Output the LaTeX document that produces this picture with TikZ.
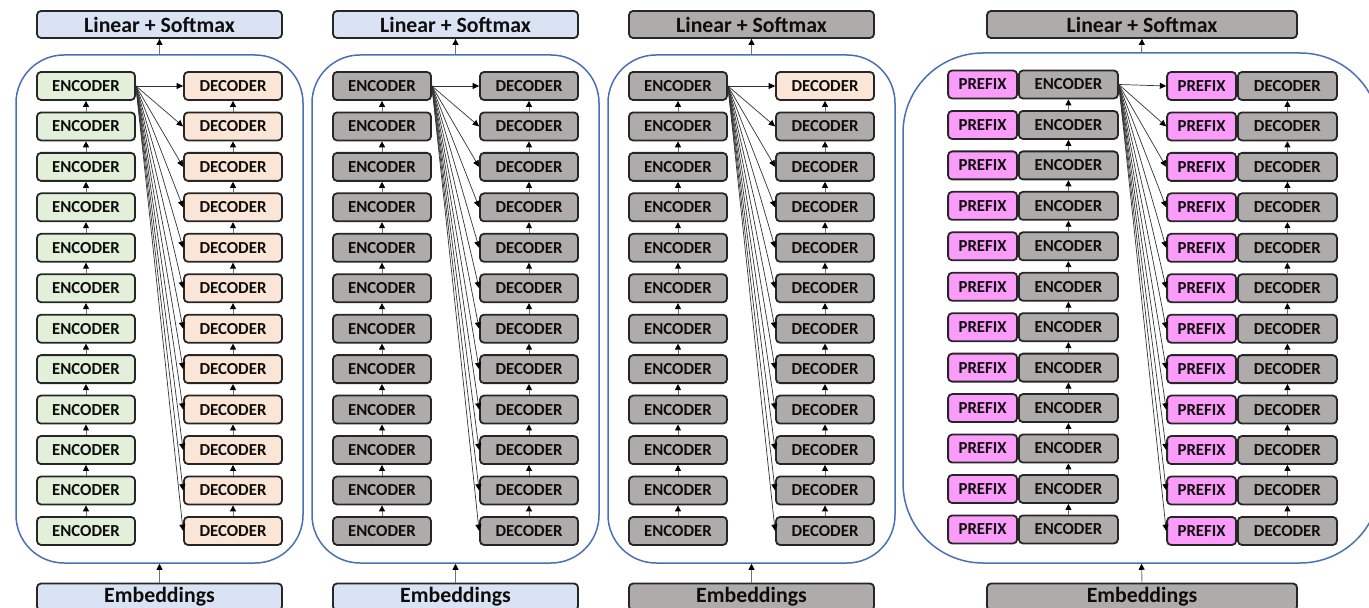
\documentclass[tikz,border=0pt]{standalone}
\usepackage{fontspec}
\setmainfont{Carlito}
\usetikzlibrary{arrows.meta}

\definecolor{lblue}{HTML}{DAE3F3}
\definecolor{egreen}{HTML}{E2F0D9}
\definecolor{dorange}{HTML}{FBE5D6}
\definecolor{gbox}{HTML}{AFABAB}
\definecolor{pfx}{HTML}{FB9CFB}
\definecolor{frame}{HTML}{4A6FB5}
\definecolor{boxline}{HTML}{262626}
\definecolor{txt}{HTML}{0D0D0D}

\begin{document}
\begin{tikzpicture}[x=0.5pt,y=-0.5pt,
  blk/.style={draw=boxline, line width=0.9pt, rounded corners=2pt,
    minimum height=14pt, inner sep=0pt, text=txt,
    font=\bfseries\fontsize{8.4}{9}\selectfont},
  layer/.style={blk, minimum width=49pt},
  pfxbox/.style={blk, minimum width=34.5pt, fill=pfx},
  head/.style={blk, minimum width=122.5pt, minimum height=13.5pt,
    font=\bfseries\fontsize{10.9}{12}\selectfont},
  stack/.style={draw=frame, line width=0.75pt, rounded corners=24pt, inner sep=0pt},
  up/.style={draw=black!55, line width=0.45pt,
    -{Triangle[length=3pt,width=3pt,color=black]}},
  fan/.style={draw=black!80, line width=0.35pt,
    -{Triangle[length=3.2pt,width=3pt,color=black]}},
]
\useasboundingbox (0,0) rectangle (1369,608);
\clip (0,0) rectangle (1369,608);

% three plain encoder--decoder stacks
\foreach \p/\dx/\ec/\dc/\tc/\lc in {1/0/egreen/dorange/dorange/lblue,
                                    2/296/gbox/gbox/gbox/lblue,
                                    3/592/gbox/gbox/dorange/gbox} {
  \node[stack, minimum width=143.5pt, minimum height=254pt] (c\p) at (159.5+\dx,309) {};
  \node[head, fill=\lc] (lin\p) at (159.5+\dx,24.5) {Linear + Softmax};
  \node[head, fill=\lc] (emb\p) at (159.5+\dx,597) {Embeddings};
  \draw[up] (c\p.north) -- (lin\p.south);
  \draw[up] (emb\p.north) -- (c\p.south);
  \foreach \i in {0,...,11} {
    \pgfmathsetmacro\yy{86+40.45*\i}
    \ifnum\i=0 \def\fc{\tc}\else\def\fc{\dc}\fi
    \node[layer, fill=\ec] (e\p-\i) at (86+\dx,\yy) {ENCODER};
    \node[layer, fill=\fc] (d\p-\i) at (233+\dx,\yy) {DECODER};
  }
  \foreach \i in {1,...,11} {
    \pgfmathtruncatemacro\j{\i-1}
    \draw[up] (e\p-\i) -- (e\p-\j);
    \draw[up] (d\p-\i) -- (d\p-\j);
  }
  \foreach \i in {0,...,11} {
    \draw[fan] (e\p-0.east) -- (d\p-\i.west);
  }
}

% stack with prefixes on every layer
\node[stack, rounded corners=40pt, minimum width=238.5pt, minimum height=255pt] (c4) at (1141.5,308) {};
\node[head, fill=gbox, minimum width=155pt] (lin4) at (1142,24.5) {Linear + Softmax};
\node[head, fill=gbox, minimum width=155pt] (emb4) at (1142,597) {Embeddings};
\draw[up] (c4.north) -- (lin4.south);
\draw[up] (emb4.north) -- (c4.south);
\foreach \i in {0,...,11} {
  \pgfmathsetmacro\ye{84.5+40.45*\i}
  \pgfmathsetmacro\yd{86+40.45*\i}
  \node[pfxbox, anchor=east] (pe-\i) at (1018,\ye) {PREFIX};
  \node[layer, fill=gbox, minimum width=49.5pt, anchor=west] (e4-\i) at (1018,\ye) {ENCODER};
  \node[pfxbox, anchor=east] (pd-\i) at (1237,\yd) {PREFIX};
  \node[layer, fill=gbox, minimum width=49.5pt, anchor=west] (d4-\i) at (1237,\yd) {DECODER};
}
\foreach \i in {1,...,11} {
  \pgfmathtruncatemacro\j{\i-1}
  \draw[up] (e4-\i) -- (e4-\j);
  \draw[up] (d4-\i) -- (d4-\j);
}
\foreach \i in {0,...,11} {
  \draw[fan] (e4-0.east) -- (pd-\i.west);
}
\end{tikzpicture}
\end{document}
